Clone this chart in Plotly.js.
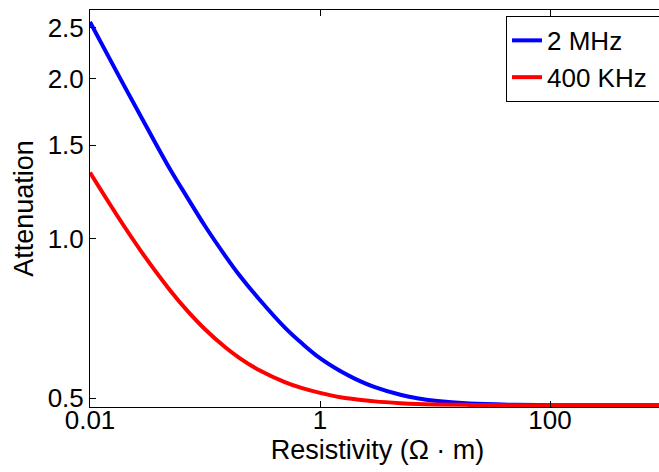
<!DOCTYPE html>
<html>
<head>
<meta charset="utf-8">
<script src="https://cdn.plot.ly/plotly-3.0.1.min.js"></script>
<style>html,body{margin:0;padding:0;overflow:hidden;background:#fff;}#wrap{width:659px;height:472px;overflow:hidden;}</style>
</head>
<body>
<div id="wrap"><div id="chart"></div></div>
<script>
// Resistivity (ohm·m)
var resistivity = [0.01, 0.015, 0.02, 0.03, 0.05, 0.07, 0.1, 0.15, 0.2, 0.3, 0.5, 0.7, 1, 1.5, 2, 3, 5, 7, 10, 20, 50, 100, 200, 500, 1000];
// Attenuation, 2 MHz
var att2MHz = [2.560, 2.172, 1.934, 1.646, 1.348, 1.196, 1.056, 0.928, 0.852, 0.766, 0.678, 0.634, 0.595, 0.5626, 0.5446, 0.5247, 0.5076, 0.5001, 0.4945, 0.4886, 0.486, 0.4853, 0.485, 0.485, 0.485];
// Attenuation, 400 KHz
var att400KHz = [1.332, 1.158, 1.0515, 0.9245, 0.7976, 0.7316, 0.6747, 0.624, 0.5954, 0.5639, 0.5357, 0.5224, 0.5118, 0.5024, 0.4982, 0.4933, 0.4895, 0.4878, 0.4868, 0.4858, 0.4852, 0.485, 0.485, 0.485, 0.485];
var seriesNames = ["2 MHz", "400 KHz"];
var xTickVals = [0.01, 1, 100];
var xTickText = ["0.01", "1", "100"];
var yTickVals = [0.5, 1.0, 1.5, 2.0, 2.5];
var yTickText = ["0.5", "1.0", "1.5", "2.0", "2.5"];

var font = "Liberation Sans, Arial, Helvetica, sans-serif";
var traces = [
  {x: resistivity, y: att2MHz, name: seriesNames[0], mode: "lines", line: {color: "#0000ff", width: 4, shape: "spline", smoothing: 1}},
  {x: resistivity, y: att400KHz, name: seriesNames[1] + "\u00a0\u00a0", mode: "lines", line: {color: "#ff0000", width: 4, shape: "spline", smoothing: 1}}
];
var layout = {
  width: 672, height: 472,
  margin: {l: 90, r: 7, t: 10, b: 65, autoexpand: false},
  paper_bgcolor: "#fff", plot_bgcolor: "#fff",
  font: {family: font, size: 26, color: "#000"},
  showlegend: true,
  legend: {x: 0.7235, y: 0.985, xanchor: "left", yanchor: "top", bgcolor: "#fff", bordercolor: "#000", borderwidth: 1, font: {family: font, size: 26, color: "#000"}, itemwidth: 30},
  xaxis: {
    type: "log", range: [-2, 3],
    tickvals: xTickVals, ticktext: xTickText,
    ticks: "inside", ticklen: 6, tickcolor: "#000", tickwidth: 1,
    showline: true, linecolor: "#000", linewidth: 1, mirror: "ticks",
    showgrid: false, zeroline: false,
    tickfont: {family: font, size: 26, color: "#000"},
    ticklabelstandoff: -10,
    title: {text: "Resistivity (Ω · m)", font: {family: font, size: 27, color: "#000"}, standoff: 0}
  },
  yaxis: {
    type: "log", range: [Math.log10(0.4814), Math.log10(2.697)],
    tickvals: yTickVals, ticktext: yTickText,
    ticks: "inside", ticklen: 6, tickcolor: "#000", tickwidth: 1,
    showline: true, linecolor: "#000", linewidth: 1, mirror: "ticks",
    showgrid: false, zeroline: false,
    tickfont: {family: font, size: 26, color: "#000"},
    title: {text: "Attenuation", font: {family: font, size: 27, color: "#000"}, standoff: 6}
  }
};
Plotly.newPlot("chart", traces, layout, {displayModeBar: false, staticPlot: true});
</script>
</body>
</html>
